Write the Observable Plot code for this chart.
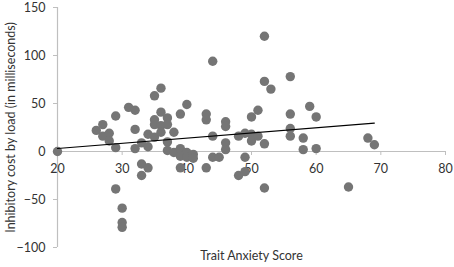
<!DOCTYPE html>
<html>
<head>
<meta charset="utf-8">
<script src="https://cdn.jsdelivr.net/npm/d3@7"></script>
<script src="https://cdn.jsdelivr.net/npm/@observablehq/plot@0.6"></script>
<style>
  html, body { margin: 0; padding: 0; background: #fff; }
  #chart svg { display: block; }
</style>
</head>
<body>
<div id="chart"></div>
<script>
// Trait anxiety score (x) and inhibitory cost by load in ms (y)
const anxiety = [20,26,27,27,28,28,29,29,29,30,30,30,31,32,32,32,33,33,33,34,34,34,35,35,35,35,36,36,36,36,37,37,37,37,38,38,39,39,39,39,40,40,40,41,41,43,43,43,44,44,44,45,46,46,46,46,48,48,49,49,49,50,50,50,51,51,52,52,52,52,53,56,56,56,56,58,58,59,60,60,65,68,69];
const cost    = [0,22,28,16,19,11,37,4,-39,-59,-74,-79,46,43,23,3,9,-13,-25,18,5,-17,58,33,28,15,66,41,27,20,35,28,10,1,20,-1,39,3,-5,-17,49,-1,-6,-3,-7,39,33,-17,94,16,-6,-6,31,26,9,2,16,-25,19,-6,-21,36,18,11,43,16,120,73,8,-38,65,78,39,24,16,14,2,47,36,3,-37,14,7];
const trendX = [20, 69];
const trendY = [3.1, 29.6];
const xTicks = [20, 30, 40, 50, 60, 70, 80];
const yTicks = [-100, -50, 0, 50, 100, 150];
const xLabel = "Trait Anxiety Score";
const yLabel = "Inhibitory cost by load (in milliseconds)";

const points = anxiety.map((x, i) => ({x, y: cost[i]}));
const trend = trendX.map((x, i) => ({x, y: trendY[i]}));
const xTickData = xTicks.map(t => ({x: t, y: 0}));

const font = "Lato, 'Open Sans', sans-serif";
const axisColor = "#bfbfbf";
const textColor = "#333";

const chart = Plot.plot({
  width: 454,
  height: 267,
  marginLeft: 57,
  marginRight: 9,
  marginTop: 7,
  marginBottom: 20,
  style: {fontFamily: font, fontSize: "12px", color: textColor, background: "#fff"},
  x: {domain: [20, 80], axis: null},
  y: {domain: [-100, 150], axis: null},
  marks: [
    Plot.axisY({ticks: yTicks, tickSize: 4, tickPadding: 8, stroke: axisColor, fill: textColor, fontSize: 12.5, label: null}),
    Plot.ruleX([20], {stroke: axisColor, strokeWidth: 1.2}),
    Plot.ruleY([0], {stroke: axisColor, strokeWidth: 1.2}),
    Plot.ruleX(xTickData, {x: "x", y1: "y", y2: "y", insetBottom: -4, stroke: axisColor}),
    Plot.text(xTickData, {x: "x", y: "y", text: d => String(d.x), dy: 17, fill: textColor, fontSize: 12.5}),
    Plot.dot(points, {x: "x", y: "y", r: 4.7, fill: "#757575", stroke: "none"}),
    Plot.line(trend, {x: "x", y: "y", stroke: "#000", strokeWidth: 1.1}),
    Plot.text([xLabel], {frameAnchor: "bottom", dy: 12, fill: textColor, fontSize: 12.5}),
    Plot.text([yLabel], {frameAnchor: "left", dx: -47, rotate: -90, textAnchor: "middle", lineAnchor: "middle", fill: textColor, fontSize: 12.5})
  ]
});
document.getElementById("chart").appendChild(chart);
</script>
</body>
</html>
